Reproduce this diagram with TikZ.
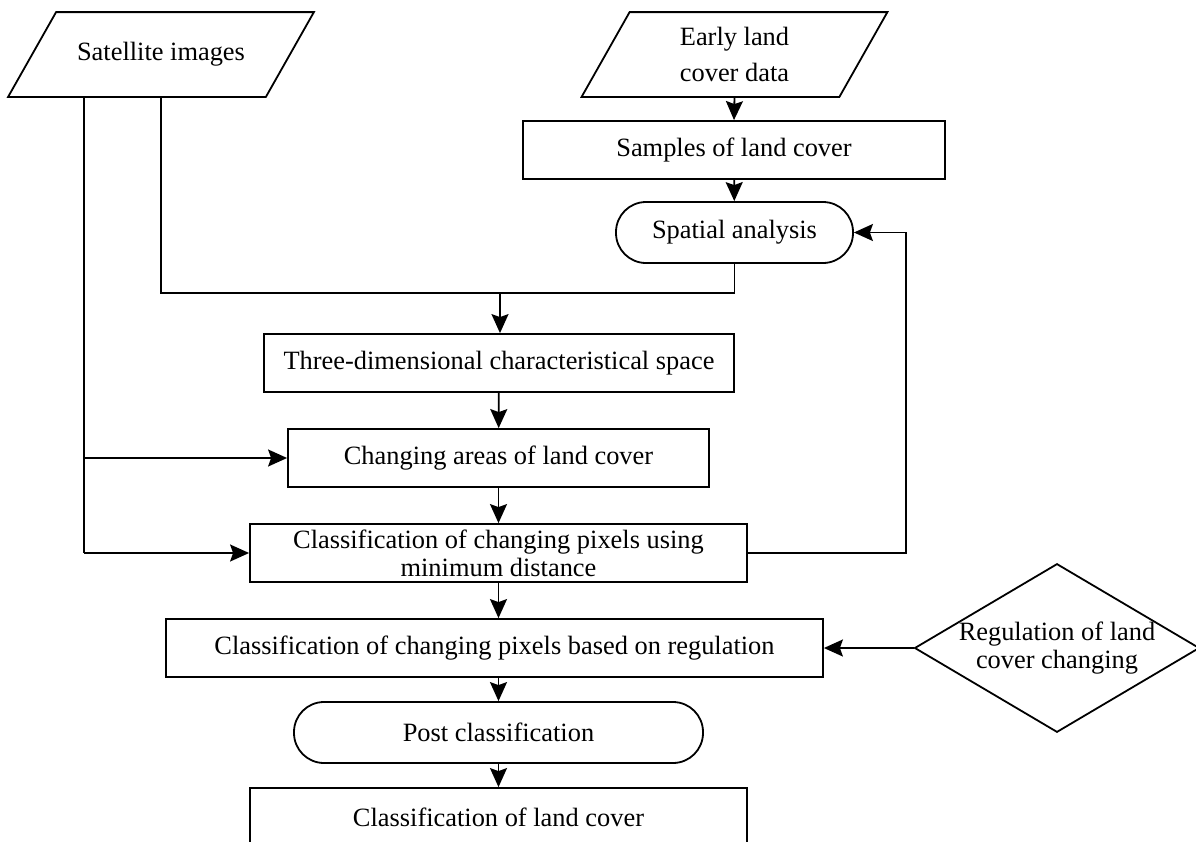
\documentclass[tikz,border=0pt]{standalone}
\usepackage{fontspec}
\setmainfont{Liberation Serif}
\usetikzlibrary{shapes.geometric,arrows.meta}

\begin{document}
\begin{tikzpicture}[x=0.5pt,y=-0.5pt,line width=0.9pt,
  font=\fontsize{13.2}{14}\selectfont,
  box/.style={draw,rectangle,minimum height=29pt,inner sep=0pt,align=center},
  io/.style={rectangle,minimum width=128pt,minimum height=41.5pt,inner sep=0pt,align=center},
  term/.style={draw,rectangle,rounded corners=15pt,minimum height=30.5pt,inner sep=0pt},
  rule/.style={draw,diamond,aspect=1.69,minimum width=139.5pt,minimum height=82.5pt,
    inner sep=0pt,align=center},
  arr/.style={-{Stealth[length=9.5pt,width=8.5pt,inset=1.5pt]}}]
\clip (0,0) rectangle (1196,842);

\node[io] (sat) at (161,54.5) {Satellite images};
\node[io,font=\fontsize{13.2}{18}\selectfont] (early) at (734.5,54.5) {Early land\\cover data};
\foreach \n in {sat,early}
  \draw ([xshift=-12pt]\n.south west) -- ([xshift=-12pt]\n.south east)
    -- ([xshift=12pt]\n.north east) -- ([xshift=12pt]\n.north west) -- cycle;
\node[box,minimum width=211pt] (samples) at (734,150) {Samples of land cover};
\node[term,minimum width=118.5pt] (spatial) at (734.5,232.5) {Spatial analysis};
\node[box,minimum width=235pt] (three) at (499,363) {Three-dimensional characteristical space};
\node[box,minimum width=210.5pt] (changing) at (498.5,458) {Changing areas of land cover};
\node[box,minimum width=248.5pt] (mindist) at (498.5,553) {Classification of changing pixels using\\minimum distance};
\node[box,minimum width=328.5pt] (regul) at (494.5,648) {Classification of changing pixels based on regulation};
\node[term,minimum width=204.5pt] (post) at (498.5,732.5) {Post classification};
\node[box,minimum width=248.5pt] (landcover) at (498.5,817) {Classification of land cover};
\node[rule] (rule) at (1057,648) {Regulation of land\\cover changing};

\coordinate (join) at (500,293);
\coordinate (lft) at (84,553);
\coordinate (back) at (906,232.5);

\draw[arr] (early.south) -- (samples.north);
\draw[arr] (samples) -- (spatial);
\draw (spatial.south) |- (join) -| (sat.south);
\draw[arr] (join) -- (join |- three.north);
\draw[arr] (three) -- (changing);
\draw[arr] (changing) -- (mindist);
\draw (sat.south -| lft) -- (lft);
\draw[arr] (lft |- changing.west) -- (changing.west);
\draw[arr] (lft) -- (mindist.west);
\draw[arr] (mindist.east) -| (back) -- (spatial.east);
\draw[arr] (mindist.south) -- (mindist.south |- regul.north);
\draw[arr] (rule.west) -- (regul.east);
\draw[arr] (regul.south -| post.north) -- (post.north);
\draw[arr] (post) -- (landcover);
\end{tikzpicture}
\end{document}
